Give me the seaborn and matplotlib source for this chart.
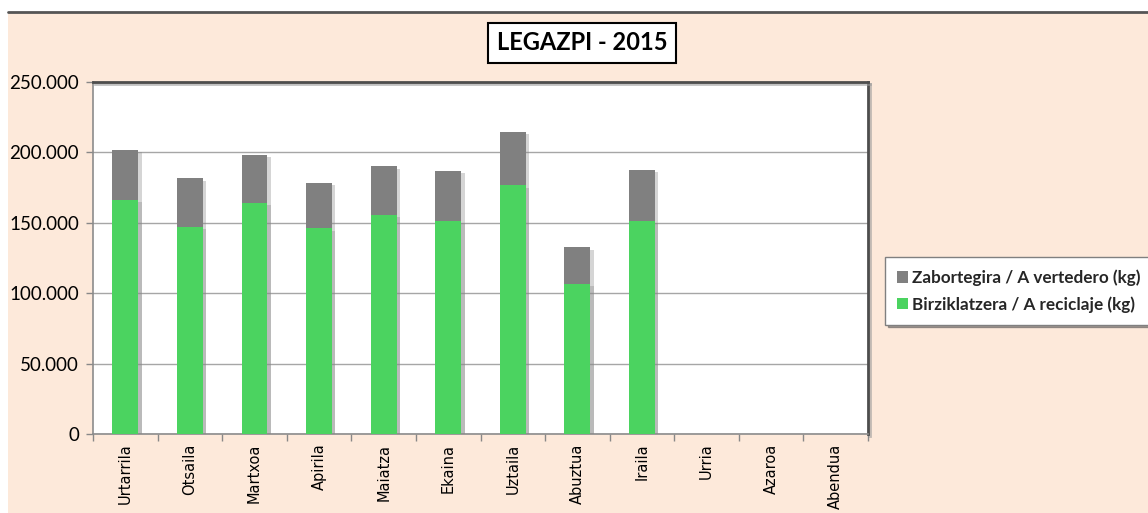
import matplotlib
matplotlib.use("Agg")
import matplotlib.pyplot as plt
import matplotlib.patheffects as pe
from matplotlib.patches import Rectangle, Patch
import matplotlib.ticker as mticker
import seaborn as sns
import pandas as pd

# ---- data ----
months = ["Urtarrila", "Otsaila", "Martxoa", "Apirila", "Maiatza", "Ekaina",
          "Uztaila", "Abuztua", "Iraila", "Urria", "Azaroa", "Abendua"]
months_with_data = months[:9]
recycling = [166000, 147000, 164000, 146000, 155500, 151500, 176500, 106500, 151500]
landfill = [36000, 34500, 34500, 32500, 34500, 35500, 38000, 26000, 36000]
series_names = ["Zabortegira / A vertedero (kg)", "Birziklatzera / A reciclaje (kg)"]
title = "LEGAZPI - 2015"
y_ticks = [0, 50000, 100000, 150000, 200000, 250000]

df = pd.DataFrame({"month": months_with_data,
                   "recycling": recycling,
                   "landfill": landfill})
df["total"] = df["recycling"] + df["landfill"]

GREEN = "#4bd360"
GRAY = "#808080"
PEACH = "#fde9da"

sns.set_theme(style="white")
plt.rcParams["font.family"] = ["Lato", "DejaVu Sans"]

W, H = 1148, 513
fig = plt.figure(figsize=(W / 100, H / 100), dpi=100)
fig.patch.set_facecolor("white")

# peach background panel with top border line
fig.patches.append(Rectangle((8 / W, 0), 1 - 8 / W, (H - 12) / H,
                             transform=fig.transFigure, facecolor=PEACH,
                             edgecolor="none", zorder=-10))
fig.lines.append(plt.Line2D([8 / W, 1], [(H - 11.5) / H, (H - 11.5) / H],
                            transform=fig.transFigure, color="#555555", lw=2))

ax = fig.add_axes([93 / W, (H - 434) / H, (868 - 93) / W, (434 - 82) / H])
ax.set_facecolor("white")

shadow = [pe.SimplePatchShadow(offset=(2.5, -1.5), shadow_rgbFace="#888888", alpha=0.35), pe.Normal()]

sns.barplot(data=df, x="month", y="total", order=months, color=GRAY,
            width=0.4, saturation=1, ax=ax, zorder=3)
sns.barplot(data=df, x="month", y="recycling", order=months, color=GREEN,
            width=0.4, saturation=1, ax=ax, zorder=4)
for p in ax.patches:
    p.set_path_effects(shadow)
    p.set_edgecolor("none")

ax.set_xlim(-0.5, len(months) - 0.5)
ax.set_ylim(0, 250000)
ax.set_yticks(y_ticks)
ax.yaxis.set_major_formatter(mticker.FuncFormatter(lambda v, _: f"{int(v):,}".replace(",", ".")))
ax.yaxis.grid(True, color="#a6a6a6", lw=1)
ax.set_axisbelow(True)
ax.set_xlabel("")
ax.set_ylabel("")

# x ticks at category boundaries, labels at centers
ax.set_xticks(range(len(months)))
ax.set_xticklabels(months, rotation=90, fontsize=10.5, family="DejaVu Sans", color="black")
ax.xaxis.set_minor_locator(mticker.FixedLocator([i - 0.5 for i in range(len(months) + 1)]))
ax.tick_params(axis="x", which="major", length=0, pad=7)
ax.tick_params(axis="x", which="minor", length=5, color="#888888", width=1, bottom=True)
ax.tick_params(axis="y", length=5, color="#888888", width=1, left=True, labelsize=13.5, pad=5)
for lab in ax.get_yticklabels():
    lab.set_color("black")

for s in ["left", "bottom"]:
    ax.spines[s].set_color("#8c8c8c")
    ax.spines[s].set_linewidth(1.2)
for s in ["top", "right"]:
    ax.spines[s].set_color("#4d4d4d")
    ax.spines[s].set_linewidth(2)
    ax.spines[s].set_path_effects([pe.SimpleLineShadow(offset=(1.5, -1.5), shadow_color="#999999", alpha=0.6), pe.Normal()])

# title box
fig.text(582 / W, (H - 43) / H, title, ha="center", va="center", fontsize=17,
         fontweight="bold", color="black",
         bbox=dict(boxstyle="square,pad=0.35", facecolor="white", edgecolor="black", lw=1.5))

# legend
handles = [Patch(facecolor=GRAY, edgecolor="none", label=series_names[0]),
           Patch(facecolor=GREEN, edgecolor="none", label=series_names[1])]
leg = fig.legend(handles=handles, loc="center left",
                 bbox_to_anchor=(885 / W, (H - 291) / H),
                 frameon=True, fancybox=False, shadow=True,
                 handlelength=0.65, handleheight=0.65, handletextpad=0.25,
                 labelspacing=0.6, borderpad=0.7, borderaxespad=0,
                 prop={"family": "Lato", "weight": "bold", "size": 12.3})
leg.get_frame().set_edgecolor("#808080")
leg.get_frame().set_linewidth(1)

fig.savefig("out.png", dpi=100, facecolor=fig.get_facecolor())
